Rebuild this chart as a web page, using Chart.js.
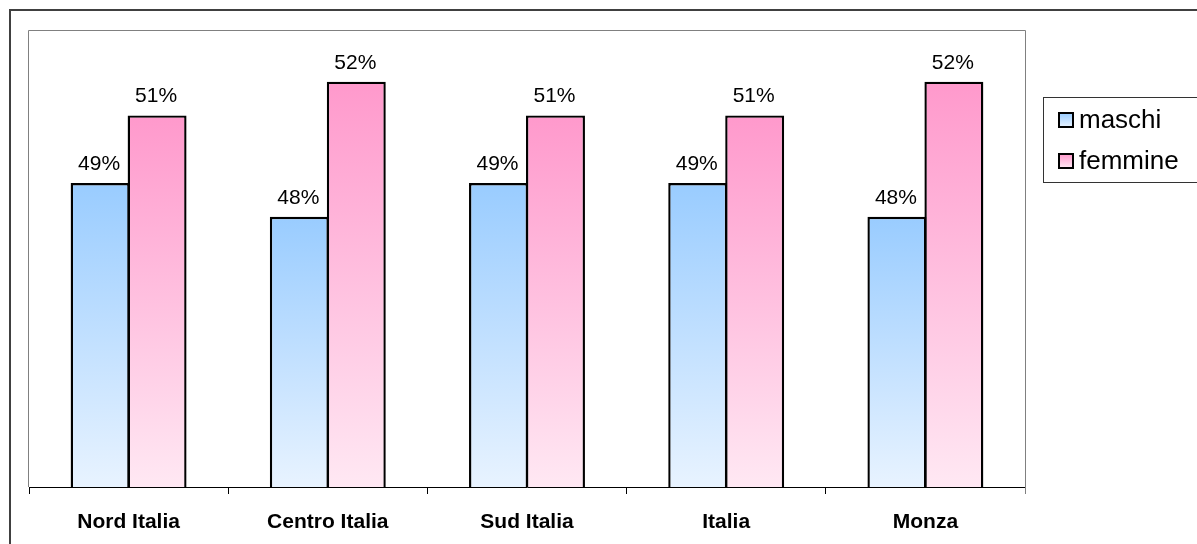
<!DOCTYPE html>
<html>
<head>
<meta charset="utf-8">
<title>maschi / femmine</title>
<script src="https://cdn.jsdelivr.net/npm/chart.js@4.4.1/dist/chart.umd.min.js"></script>
<style>
  html, body { margin: 0; padding: 0; background: #fff; }
  canvas { display: block; }
</style>
</head>
<body>
<canvas id="barChart" width="1197" height="544"></canvas>
<script>
const categories = ["Nord Italia", "Centro Italia", "Sud Italia", "Italia", "Monza"];
const seriesNames = ["maschi", "femmine"];
const maschi = [49, 48, 49, 49, 48];
const femmine = [51, 52, 51, 51, 52];
const yMin = 40, yMax = 53.5;

const FONT = '"Liberation Sans", Arial, sans-serif';
const topColors = ["#99ccff", "#ff99cc"];
const bottomColors = ["#e8f3ff", "#ffe8f3"];

function barGradient(i) {
  return (ctx) => {
    const chart = ctx.chart;
    const area = chart.chartArea;
    if (!area || ctx.type !== "data") return topColors[i];
    const y = chart.scales.y.getPixelForValue(ctx.raw);
    const g = chart.ctx.createLinearGradient(0, y, 0, area.bottom);
    g.addColorStop(0, topColors[i]);
    g.addColorStop(1, bottomColors[i]);
    return g;
  };
}

// frame, plot border, value labels and the boxed legend
const decor = {
  id: "decor",
  beforeDraw(chart) {
    const c = chart.ctx;
    c.save();
    c.fillStyle = "#fff";
    c.fillRect(0, 0, chart.width, chart.height);
    c.restore();
  },
  afterDatasetsDraw(chart) {
    const c = chart.ctx;
    c.save();
    c.font = "21px " + FONT;
    c.fillStyle = "#000";
    c.textAlign = "center";
    c.textBaseline = "alphabetic";
    chart.data.datasets.forEach((ds, i) => {
      chart.getDatasetMeta(i).data.forEach((bar, j) => {
        c.fillText(Math.round(ds.data[j]) + "%", bar.x - 1, bar.y - 13);
      });
    });
    c.restore();
  },
  afterDraw(chart) {
    const c = chart.ctx;
    const a = chart.chartArea;
    c.save();
    // plot area border (left, top, right)
    c.strokeStyle = "#808080";
    c.lineWidth = 1;
    c.beginPath();
    c.moveTo(a.left - 0.5, a.bottom);
    c.lineTo(a.left - 0.5, a.top - 0.5);
    c.lineTo(a.right + 0.5, a.top - 0.5);
    c.lineTo(a.right + 0.5, a.bottom + 7);
    c.stroke();

    // outer frame
    c.strokeStyle = "#404040";
    c.lineWidth = 2;
    c.strokeRect(10, 10, 1400, 800);

    // legend
    c.strokeStyle = "#333";
    c.lineWidth = 1;
    c.strokeRect(1043.5, 97.5, 300, 85);
    c.font = "26px " + FONT;
    c.textAlign = "left";
    c.textBaseline = "alphabetic";
    chart.data.datasets.forEach((ds, i) => {
      const y = 113 + i * 41;
      const g = c.createLinearGradient(0, y, 0, y + 14);
      g.addColorStop(0, topColors[i]);
      g.addColorStop(1, bottomColors[i]);
      c.fillStyle = g;
      c.fillRect(1059, y, 14, 14);
      c.strokeStyle = "#000";
      c.lineWidth = 2;
      c.strokeRect(1059, y, 14, 14);
      c.fillStyle = "#000";
      c.fillText(ds.label, 1079, y + 14.5);
    });
    c.restore();
  }
};

window.onload = () => {
  const ctx = document.getElementById("barChart").getContext("2d");
  window.barChart = new Chart(ctx, {
    type: "bar",
    data: {
      labels: categories,
      datasets: [maschi, femmine].map((vals, i) => ({
        label: seriesNames[i],
        data: vals,
        backgroundColor: barGradient(i),
        borderColor: "#000",
        borderWidth: 2.4,
        borderSkipped: "bottom"
      }))
    },
    options: {
      responsive: false,
      animation: false,
      events: [],
      datasets: { bar: { categoryPercentage: 0.572, barPercentage: 1.035 } },
      layout: { padding: { left: 29, top: 31, right: 172, bottom: 0 } },
      plugins: { legend: { display: false }, tooltip: { enabled: false } },
      scales: {
        x: {
          afterFit: (s) => { s.height = 57; },
          grid: { offset: true, drawOnChartArea: false, drawTicks: true, tickLength: 7, color: "#000" },
          border: { display: true, color: "#000", width: 1 },
          ticks: { color: "#000", padding: 16, font: { family: FONT, size: 21, weight: "bold" } }
        },
        y: {
          display: false,
          min: yMin,
          max: yMax
        }
      }
    },
    plugins: [decor]
  });
};
</script>
</body>
</html>
